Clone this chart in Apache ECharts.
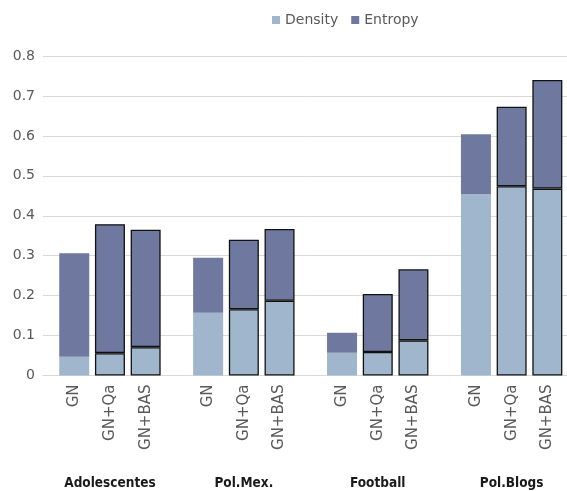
<!DOCTYPE html>
<html>
<head>
<meta charset="utf-8">
<script src="https://cdn.jsdelivr.net/npm/echarts@6/dist/echarts.min.js"></script>
<style>
  html, body { margin: 0; padding: 0; background: #fff; overflow: hidden; }
  #chart { width: 567px; height: 491px; }
</style>
</head>
<body>
<div id="chart"></div>
<script>
// Networks (groups on the x axis)
const networks = ['Adolescentes', 'Pol.Mex.', 'Football', 'Pol.Blogs'];
// Methods, one stacked bar per method inside each group
const methods = ['GN', 'GN+Qa', 'GN+BAS'];

// Density part of each bar, per method, across the networks
const densityGN    = [0.047, 0.157, 0.057, 0.454];
const densityGNQa  = [0.056, 0.166, 0.059, 0.474];
const densityGNBAS = [0.071, 0.187, 0.088, 0.468];

// Entropy part stacked on top
const entropyGN    = [0.259, 0.138, 0.050, 0.150];
const entropyGNQa  = [0.323, 0.174, 0.145, 0.199];
const entropyGNBAS = [0.294, 0.180, 0.178, 0.272];

// Value axis ticks
const yTicks = [0, 0.1, 0.2, 0.3, 0.4, 0.5, 0.6, 0.7, 0.8];

const densityColor = '#9fb6cc';
const entropyColor = '#6f799f';
const textGrey = '#595959';
const baseFont = '"DejaVu Sans", "Noto Sans", sans-serif';

const densityByMethod = [densityGN, densityGNQa, densityGNBAS];
const entropyByMethod = [entropyGN, entropyGNQa, entropyGNBAS];

const series = [];
methods.forEach((m, i) => {
  const framed = i > 0;
  const border = framed
    ? { borderColor: '#111', borderWidth: 1.3 }
    : { borderWidth: 0 };
  series.push({
    name: 'Density',
    type: 'bar',
    stack: m,
    barWidth: 30,
    barGap: '19%',
    data: densityByMethod[i],
    itemStyle: Object.assign({ color: densityColor }, border),
    label: {
      show: true,
      formatter: m,
      position: 'bottom',
      distance: 9,
      rotate: 90,
      align: 'right',
      verticalAlign: 'middle',
      color: textGrey,
      fontFamily: baseFont,
      fontSize: 15
    },
    emphasis: { disabled: true }
  });
  series.push({
    name: 'Entropy',
    type: 'bar',
    stack: m,
    barWidth: 30,
    barGap: '19%',
    data: entropyByMethod[i],
    itemStyle: Object.assign({ color: entropyColor }, border),
    emphasis: { disabled: true }
  });
});

const chart = echarts.init(document.getElementById('chart'), null, { renderer: 'canvas' });
chart.setOption({
  animation: false,
  backgroundColor: '#fff',
  legend: {
    data: ['Density', 'Entropy'],
    left: 267,
    top: 8,
    icon: 'rect',
    itemWidth: 8,
    itemHeight: 8,
    itemGap: 13,
    textStyle: { color: textGrey, fontFamily: baseFont, fontSize: 14 }
  },
  grid: {
    left: 43,
    width: 535.6,
    top: 56,
    bottom: 115.5,
    containLabel: false,
    outerBoundsMode: 'none'
  },
  xAxis: {
    type: 'category',
    data: networks,
    axisLine: { show: true, lineStyle: { color: '#d9d9d9', width: 1 } },
    axisTick: { show: false },
    axisLabel: {
      interval: 0,
      margin: 101,
      color: '#1a1a1a',
      fontFamily: '"Liberation Sans Narrow", "DejaVu Sans Condensed", "DejaVu Sans", sans-serif',
      fontWeight: 'bold',
      fontSize: 13.5
    }
  },
  yAxis: {
    type: 'value',
    min: yTicks[0],
    max: yTicks[yTicks.length - 1],
    interval: 0.1,
    axisLine: { show: false },
    axisTick: { show: false },
    splitLine: { lineStyle: { color: '#d9d9d9', width: 1 } },
    axisLabel: {
      margin: 8,
      color: textGrey,
      fontFamily: baseFont,
      fontSize: 14,
      formatter: v => (v === 0 ? '0' : v.toFixed(1))
    }
  },
  series: series
});
</script>
</body>
</html>
